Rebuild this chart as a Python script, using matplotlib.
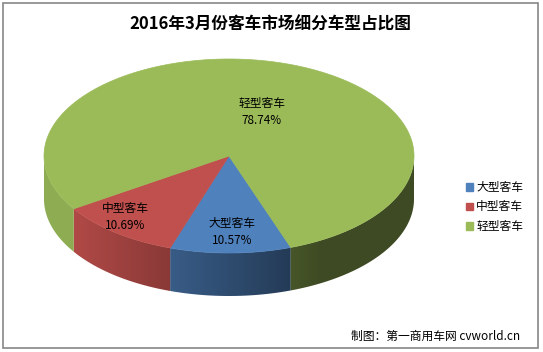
import numpy as np
import matplotlib
matplotlib.use('Agg')
import matplotlib.pyplot as plt
from matplotlib.patches import Polygon, Patch, Rectangle

plt.rcParams['font.family'] = ['Noto Sans CJK SC', 'DejaVu Sans']

# data
categories = ['大型客车', '中型客车', '轻型客车']
shares = [10.57, 10.69, 78.74]
colors = ['#4f81bd', '#c0504d', '#9bbb59']
title = '2016年3月份客车市场细分车型占比图'
source = '制图：第一商用车网 cvworld.cn'

# geometry of the fake 3d pie (pixel space)
W, H = 543, 352
cx, cy = 229, 156
rx, ry = 185, 97
depth = 43
start = -70.5   # first slice starts here and goes clockwise


def side_factor(t):
    return np.clip(0.59 - 0.39 * np.cos(np.radians(t)), 0.40, 0.92)


def arc(t0, t1, n=None):
    if n is None:
        n = max(int(abs(t1 - t0)) * 2, 4)
    t = np.radians(np.linspace(t0, t1, n))
    return cx + rx * np.cos(t), cy - ry * np.sin(t)


fig = plt.figure(figsize=(W / 100, H / 100), dpi=100)
ax = fig.add_axes([0, 0, 1, 1])
ax.set_xlim(0, W)
ax.set_ylim(H, 0)
ax.axis('off')

# chart border
ax.add_patch(Rectangle((2.5, 2.5), 535, 345, fill=False, ec='#868686', lw=1.2))

# slice angle ranges (clockwise from start)
ranges = []
a = start
for s in shares:
    span = s / 100 * 360
    ranges.append((a - span, a))
    a -= span

# side walls (only the front half, angles -180..0), gradient by angle
for (t0, t1), col in zip(ranges, colors):
    base = np.array(matplotlib.colors.to_rgb(col))
    for off in (-360, 0, 360):
        lo, hi = max(t0 + off, -180), min(t1 + off, 0)
        if hi <= lo:
            continue
        xs, ys = arc(lo, hi)
        pts = np.concatenate([np.c_[xs, ys], np.c_[xs[::-1], ys[::-1] + depth]])
        poly = Polygon(pts, closed=True, fc='none', ec='none')
        ax.add_patch(poly)
        x0, x1 = pts[:, 0].min() - 1, pts[:, 0].max() + 1
        y0, y1 = pts[:, 1].min() - 1, pts[:, 1].max() + 1
        gx = np.linspace(x0, x1, 200)
        ang = -np.degrees(np.arccos(np.clip((gx - cx) / rx, -1, 1)))
        img = np.clip(base[None, :] * side_factor(ang)[:, None], 0, 1)[None, :, :]
        im = ax.imshow(img, extent=(x0, x1, y1, y0), aspect='auto',
                       interpolation='bilinear', zorder=1)
        im.set_clip_path(poly)

# top faces
for (t0, t1), col in zip(ranges, colors):
    xs, ys = arc(t0, t1)
    pts = np.concatenate([[[cx, cy]], np.c_[xs, ys]])
    ax.add_patch(Polygon(pts, closed=True, fc=col, ec=col, lw=0.5, zorder=2))

ax.set_xlim(0, W)
ax.set_ylim(H, 0)

# data labels
label_pos = [(232, 232), (125, 217), (262, 112)]
for name, val, (x, y) in zip(categories, shares, label_pos):
    ax.text(x, y, f'{name}\n{val:.2f}%', ha='center', va='center',
            fontsize=8.5, linespacing=1.35, color='black', zorder=3)

ax.text(270, 25, title, ha='center', va='center', fontsize=12, fontweight='bold')
ax.text(520, 336, source, ha='right', va='center', fontsize=8.5)

handles = [Patch(fc=c, ec=c) for c in colors]
fig.legend(handles, categories, loc='center left', frameon=False,
           bbox_to_anchor=(455 / W, 1 - 207 / H), fontsize=8.5,
           handlelength=0.6, handleheight=0.6, handletextpad=0.3,
           labelspacing=0.55)

fig.savefig('out.png', dpi=100)
